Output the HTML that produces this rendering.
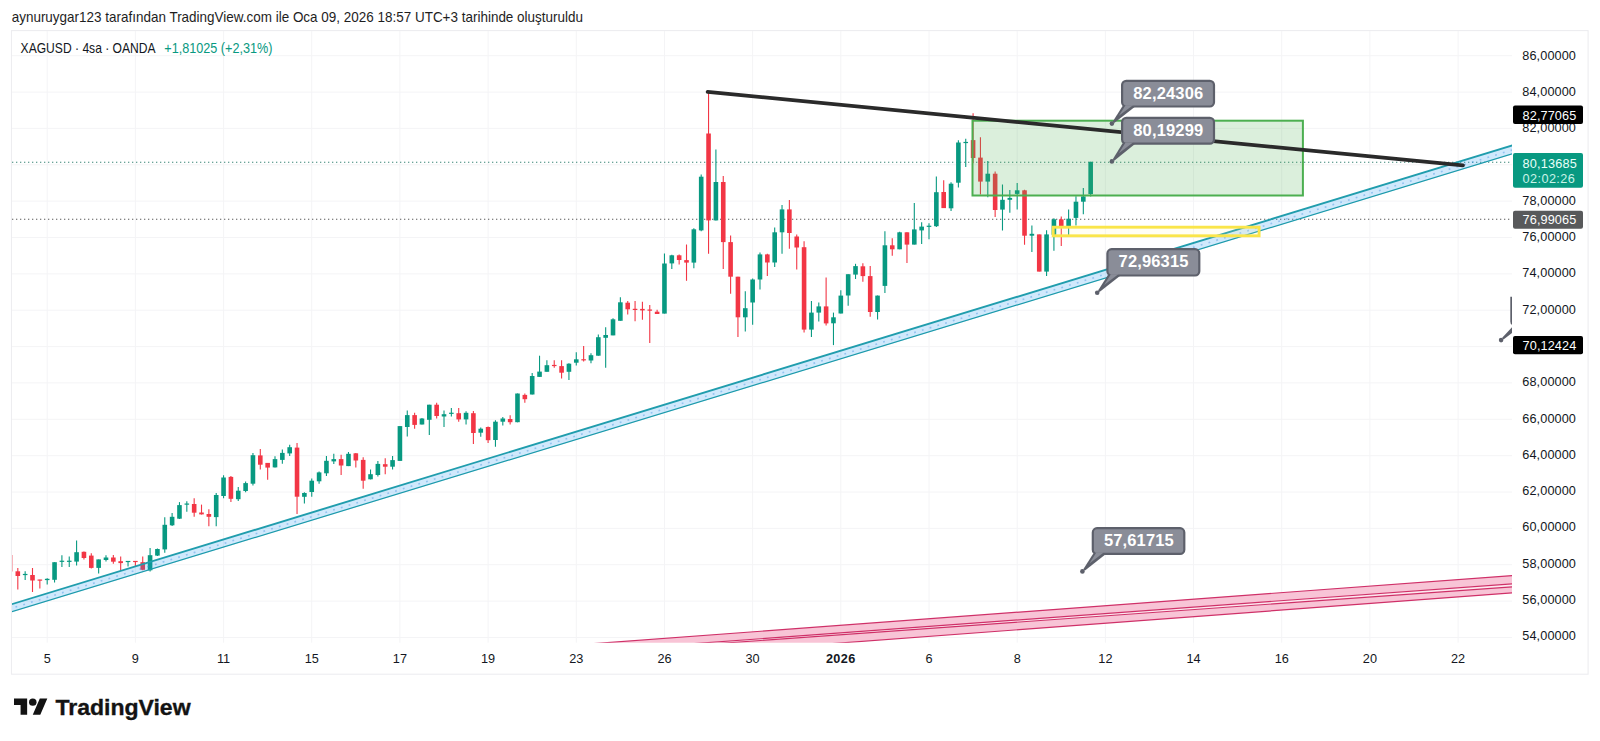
<!DOCTYPE html>
<html lang="tr"><head><meta charset="utf-8"><title>XAGUSD</title>
<style>
html,body{margin:0;padding:0;background:#fff;}
body{width:1600px;height:741px;position:relative;overflow:hidden;font-family:"Liberation Sans",sans-serif;}
#chart{position:absolute;left:0;top:0;}
#logo{position:absolute;left:13.9px;top:694.9px;}
svg text{font-family:"Liberation Sans",sans-serif;}
</style></head><body>
<svg id="chart" width="1600" height="741" viewBox="0 0 1600 741">
<defs><clipPath id="plot"><rect x="12" y="31" width="1500" height="611.7"/></clipPath></defs>
<rect x="11.5" y="30.6" width="1576.6" height="643.6" fill="#fff" stroke="#ededf0" stroke-width="1.1"/>

<g stroke="#f4f4f6" stroke-width="1">
<line x1="47.2" y1="31" x2="47.2" y2="642.7"/>
<line x1="135.4" y1="31" x2="135.4" y2="642.7"/>
<line x1="223.6" y1="31" x2="223.6" y2="642.7"/>
<line x1="311.7" y1="31" x2="311.7" y2="642.7"/>
<line x1="399.9" y1="31" x2="399.9" y2="642.7"/>
<line x1="488.1" y1="31" x2="488.1" y2="642.7"/>
<line x1="576.3" y1="31" x2="576.3" y2="642.7"/>
<line x1="664.5" y1="31" x2="664.5" y2="642.7"/>
<line x1="752.6" y1="31" x2="752.6" y2="642.7"/>
<line x1="840.8" y1="31" x2="840.8" y2="642.7"/>
<line x1="929.0" y1="31" x2="929.0" y2="642.7"/>
<line x1="1017.2" y1="31" x2="1017.2" y2="642.7"/>
<line x1="1105.4" y1="31" x2="1105.4" y2="642.7"/>
<line x1="1193.5" y1="31" x2="1193.5" y2="642.7"/>
<line x1="1281.7" y1="31" x2="1281.7" y2="642.7"/>
<line x1="1369.9" y1="31" x2="1369.9" y2="642.7"/>
<line x1="1458.1" y1="31" x2="1458.1" y2="642.7"/>
<line x1="12" y1="637.5" x2="1512" y2="637.5"/>
<line x1="12" y1="601.1" x2="1512" y2="601.1"/>
<line x1="12" y1="564.7" x2="1512" y2="564.7"/>
<line x1="12" y1="528.4" x2="1512" y2="528.4"/>
<line x1="12" y1="492.0" x2="1512" y2="492.0"/>
<line x1="12" y1="455.7" x2="1512" y2="455.7"/>
<line x1="12" y1="419.3" x2="1512" y2="419.3"/>
<line x1="12" y1="382.9" x2="1512" y2="382.9"/>
<line x1="12" y1="346.6" x2="1512" y2="346.6"/>
<line x1="12" y1="310.2" x2="1512" y2="310.2"/>
<line x1="12" y1="273.9" x2="1512" y2="273.9"/>
<line x1="12" y1="237.5" x2="1512" y2="237.5"/>
<line x1="12" y1="201.1" x2="1512" y2="201.1"/>
<line x1="12" y1="164.8" x2="1512" y2="164.8"/>
<line x1="12" y1="128.4" x2="1512" y2="128.4"/>
<line x1="12" y1="92.1" x2="1512" y2="92.1"/>
<line x1="12" y1="55.7" x2="1512" y2="55.7"/>
</g>
<g clip-path="url(#plot)">
<polygon points="560,646.1 1520,575.0 1520,583.2 560,653.4" fill="#f8c4d6"/>
<polygon points="560,654.8 1520,586.3 1520,592.3 560,663.9" fill="#f8c4d6"/>
<polygon points="560,653.4 1520,583.2 1520,586.3 560,654.8" fill="#fde9f0"/>
<line x1="560" y1="646.1" x2="1520" y2="575.0" stroke="#cf3068" stroke-width="1.2"/>
<line x1="560" y1="653.4" x2="1520" y2="583.2" stroke="#cf3068" stroke-width="1.2"/>
<line x1="560" y1="654.8" x2="1520" y2="586.3" stroke="#cf3068" stroke-width="1.2"/>
<line x1="560" y1="663.9" x2="1520" y2="592.3" stroke="#cf3068" stroke-width="1.2"/>
<line x1="12" y1="162.3" x2="1512" y2="162.3" stroke="#3a8577" stroke-width="1.1" stroke-dasharray="1.3 2.7"/>
<line x1="12" y1="219.3" x2="1512" y2="219.3" stroke="#5a5a5a" stroke-width="1.1" stroke-dasharray="1.3 2.7"/>
<line x1="12.3" y1="555" x2="12.3" y2="571.5" stroke="#f7a3ab" stroke-width="1"/>
<line x1="17.81" y1="567.9" x2="17.81" y2="589.6" stroke="#f23645" stroke-width="1.1"/>
<rect x="15.51" y="571.3" width="4.6" height="4.7" fill="#f23645"/>
<line x1="25.16" y1="571.3" x2="25.16" y2="580.1" stroke="#089981" stroke-width="1.1"/>
<rect x="22.86" y="573.9" width="4.6" height="1.2" fill="#089981"/>
<line x1="32.50" y1="567.9" x2="32.50" y2="592.0" stroke="#f23645" stroke-width="1.1"/>
<rect x="30.20" y="575.0" width="4.6" height="5.5" fill="#f23645"/>
<line x1="39.85" y1="579.8" x2="39.85" y2="588.6" stroke="#f23645" stroke-width="1.1"/>
<rect x="37.55" y="579.5" width="4.6" height="1.2" fill="#f23645"/>
<line x1="47.20" y1="578.2" x2="47.20" y2="584.5" stroke="#089981" stroke-width="1.1"/>
<rect x="44.90" y="578.8" width="4.6" height="1.3" fill="#089981"/>
<line x1="54.55" y1="562.2" x2="54.55" y2="582.4" stroke="#089981" stroke-width="1.1"/>
<rect x="52.25" y="562.2" width="4.6" height="17.6" fill="#089981"/>
<line x1="61.90" y1="555.2" x2="61.90" y2="566.9" stroke="#089981" stroke-width="1.1"/>
<rect x="59.60" y="560.7" width="4.6" height="1.2" fill="#089981"/>
<line x1="69.25" y1="556.5" x2="69.25" y2="566.9" stroke="#089981" stroke-width="1.1"/>
<rect x="66.95" y="560.7" width="4.6" height="1.2" fill="#089981"/>
<line x1="76.59" y1="540.5" x2="76.59" y2="565.4" stroke="#089981" stroke-width="1.1"/>
<rect x="74.29" y="552.2" width="4.6" height="9.4" fill="#089981"/>
<line x1="83.94" y1="551.4" x2="83.94" y2="559.4" stroke="#f23645" stroke-width="1.1"/>
<rect x="81.64" y="551.8" width="4.6" height="6.2" fill="#f23645"/>
<line x1="91.29" y1="553.3" x2="91.29" y2="568.4" stroke="#f23645" stroke-width="1.1"/>
<rect x="88.99" y="555.6" width="4.6" height="12.3" fill="#f23645"/>
<line x1="98.64" y1="559.4" x2="98.64" y2="573.5" stroke="#089981" stroke-width="1.1"/>
<rect x="96.34" y="559.4" width="4.6" height="8.5" fill="#089981"/>
<line x1="105.99" y1="555.2" x2="105.99" y2="561.6" stroke="#089981" stroke-width="1.1"/>
<rect x="103.69" y="557.5" width="4.6" height="2.5" fill="#089981"/>
<line x1="113.34" y1="555.0" x2="113.34" y2="563.7" stroke="#f23645" stroke-width="1.1"/>
<rect x="111.04" y="557.5" width="4.6" height="4.2" fill="#f23645"/>
<line x1="120.68" y1="556.5" x2="120.68" y2="570.7" stroke="#f23645" stroke-width="1.1"/>
<rect x="118.38" y="561.2" width="4.6" height="1.9" fill="#f23645"/>
<line x1="128.03" y1="561.2" x2="128.03" y2="566.5" stroke="#089981" stroke-width="1.1"/>
<rect x="125.73" y="560.9" width="4.6" height="1.2" fill="#089981"/>
<line x1="135.38" y1="561.2" x2="135.38" y2="566.0" stroke="#f23645" stroke-width="1.1"/>
<rect x="133.08" y="560.9" width="4.6" height="1.2" fill="#f23645"/>
<line x1="142.73" y1="556.5" x2="142.73" y2="570.3" stroke="#f23645" stroke-width="1.1"/>
<rect x="140.43" y="562.2" width="4.6" height="7.6" fill="#f23645"/>
<line x1="150.08" y1="548.0" x2="150.08" y2="571.6" stroke="#089981" stroke-width="1.1"/>
<rect x="147.78" y="555.2" width="4.6" height="15.1" fill="#089981"/>
<line x1="157.43" y1="548.4" x2="157.43" y2="556.1" stroke="#089981" stroke-width="1.1"/>
<rect x="155.12" y="549.0" width="4.6" height="6.6" fill="#089981"/>
<line x1="164.77" y1="517.2" x2="164.77" y2="552.7" stroke="#089981" stroke-width="1.1"/>
<rect x="162.47" y="524.8" width="4.6" height="24.6" fill="#089981"/>
<line x1="172.12" y1="513.1" x2="172.12" y2="525.9" stroke="#089981" stroke-width="1.1"/>
<rect x="169.82" y="516.8" width="4.6" height="8.5" fill="#089981"/>
<line x1="179.47" y1="502.1" x2="179.47" y2="519.1" stroke="#089981" stroke-width="1.1"/>
<rect x="177.17" y="505.1" width="4.6" height="13.6" fill="#089981"/>
<line x1="186.82" y1="501.2" x2="186.82" y2="511.7" stroke="#089981" stroke-width="1.1"/>
<rect x="184.52" y="503.5" width="4.6" height="1.2" fill="#089981"/>
<line x1="194.17" y1="498.3" x2="194.17" y2="516.8" stroke="#f23645" stroke-width="1.1"/>
<rect x="191.87" y="504.0" width="4.6" height="8.7" fill="#f23645"/>
<line x1="201.51" y1="504.6" x2="201.51" y2="514.6" stroke="#f23645" stroke-width="1.1"/>
<rect x="199.21" y="512.5" width="4.6" height="1.9" fill="#f23645"/>
<line x1="208.86" y1="509.3" x2="208.86" y2="526.3" stroke="#f23645" stroke-width="1.1"/>
<rect x="206.56" y="514.0" width="4.6" height="2.8" fill="#f23645"/>
<line x1="216.21" y1="493.0" x2="216.21" y2="526.2" stroke="#089981" stroke-width="1.1"/>
<rect x="213.91" y="495.0" width="4.6" height="22.1" fill="#089981"/>
<line x1="223.56" y1="475.2" x2="223.56" y2="498.2" stroke="#089981" stroke-width="1.1"/>
<rect x="221.26" y="477.5" width="4.6" height="18.5" fill="#089981"/>
<line x1="230.91" y1="476.1" x2="230.91" y2="502.0" stroke="#f23645" stroke-width="1.1"/>
<rect x="228.61" y="476.9" width="4.6" height="21.9" fill="#f23645"/>
<line x1="238.26" y1="486.9" x2="238.26" y2="501.1" stroke="#089981" stroke-width="1.1"/>
<rect x="235.96" y="490.7" width="4.6" height="8.5" fill="#089981"/>
<line x1="245.61" y1="481.6" x2="245.61" y2="492.2" stroke="#089981" stroke-width="1.1"/>
<rect x="243.31" y="483.1" width="4.6" height="7.9" fill="#089981"/>
<line x1="252.95" y1="452.9" x2="252.95" y2="485.6" stroke="#089981" stroke-width="1.1"/>
<rect x="250.65" y="455.2" width="4.6" height="28.5" fill="#089981"/>
<line x1="260.30" y1="449.1" x2="260.30" y2="469.5" stroke="#f23645" stroke-width="1.1"/>
<rect x="258.00" y="455.4" width="4.6" height="9.3" fill="#f23645"/>
<line x1="267.65" y1="462.9" x2="267.65" y2="479.7" stroke="#f23645" stroke-width="1.1"/>
<rect x="265.35" y="462.9" width="4.6" height="4.7" fill="#f23645"/>
<line x1="275.00" y1="456.3" x2="275.00" y2="467.4" stroke="#089981" stroke-width="1.1"/>
<rect x="272.70" y="459.1" width="4.6" height="8.3" fill="#089981"/>
<line x1="282.35" y1="449.5" x2="282.35" y2="463.7" stroke="#089981" stroke-width="1.1"/>
<rect x="280.05" y="452.9" width="4.6" height="7.0" fill="#089981"/>
<line x1="289.69" y1="444.8" x2="289.69" y2="456.1" stroke="#089981" stroke-width="1.1"/>
<rect x="287.39" y="447.2" width="4.6" height="6.2" fill="#089981"/>
<line x1="297.04" y1="443.1" x2="297.04" y2="513.9" stroke="#f23645" stroke-width="1.1"/>
<rect x="294.74" y="447.6" width="4.6" height="49.1" fill="#f23645"/>
<line x1="304.39" y1="492.2" x2="304.39" y2="503.5" stroke="#089981" stroke-width="1.1"/>
<rect x="302.09" y="493.0" width="4.6" height="3.8" fill="#089981"/>
<line x1="311.74" y1="478.4" x2="311.74" y2="496.7" stroke="#089981" stroke-width="1.1"/>
<rect x="309.44" y="480.7" width="4.6" height="11.3" fill="#089981"/>
<line x1="319.09" y1="471.4" x2="319.09" y2="483.7" stroke="#089981" stroke-width="1.1"/>
<rect x="316.79" y="472.4" width="4.6" height="8.9" fill="#089981"/>
<line x1="326.44" y1="456.1" x2="326.44" y2="475.9" stroke="#089981" stroke-width="1.1"/>
<rect x="324.14" y="460.8" width="4.6" height="12.5" fill="#089981"/>
<line x1="333.79" y1="453.8" x2="333.79" y2="463.9" stroke="#089981" stroke-width="1.1"/>
<rect x="331.49" y="459.1" width="4.6" height="2.3" fill="#089981"/>
<line x1="341.13" y1="454.8" x2="341.13" y2="475.0" stroke="#f23645" stroke-width="1.1"/>
<rect x="338.83" y="459.1" width="4.6" height="6.4" fill="#f23645"/>
<line x1="348.48" y1="452.0" x2="348.48" y2="466.1" stroke="#089981" stroke-width="1.1"/>
<rect x="346.18" y="453.8" width="4.6" height="12.3" fill="#089981"/>
<line x1="355.83" y1="452.9" x2="355.83" y2="467.4" stroke="#f23645" stroke-width="1.1"/>
<rect x="353.53" y="453.3" width="4.6" height="7.2" fill="#f23645"/>
<line x1="363.18" y1="457.2" x2="363.18" y2="488.8" stroke="#f23645" stroke-width="1.1"/>
<rect x="360.88" y="459.9" width="4.6" height="20.8" fill="#f23645"/>
<line x1="370.53" y1="469.5" x2="370.53" y2="479.4" stroke="#089981" stroke-width="1.1"/>
<rect x="368.23" y="474.2" width="4.6" height="5.1" fill="#089981"/>
<line x1="377.88" y1="461.0" x2="377.88" y2="476.5" stroke="#089981" stroke-width="1.1"/>
<rect x="375.57" y="463.9" width="4.6" height="11.1" fill="#089981"/>
<line x1="385.22" y1="458.2" x2="385.22" y2="474.2" stroke="#f23645" stroke-width="1.1"/>
<rect x="382.92" y="464.2" width="4.6" height="2.5" fill="#f23645"/>
<line x1="392.57" y1="456.1" x2="392.57" y2="469.5" stroke="#089981" stroke-width="1.1"/>
<rect x="390.27" y="460.1" width="4.6" height="6.6" fill="#089981"/>
<line x1="399.92" y1="426.1" x2="399.92" y2="460.8" stroke="#089981" stroke-width="1.1"/>
<rect x="397.62" y="426.1" width="4.6" height="34.8" fill="#089981"/>
<line x1="407.27" y1="410.4" x2="407.27" y2="436.5" stroke="#089981" stroke-width="1.1"/>
<rect x="404.97" y="415.1" width="4.6" height="11.9" fill="#089981"/>
<line x1="414.62" y1="412.7" x2="414.62" y2="428.7" stroke="#f23645" stroke-width="1.1"/>
<rect x="412.32" y="415.1" width="4.6" height="9.8" fill="#f23645"/>
<line x1="421.96" y1="417.9" x2="421.96" y2="424.6" stroke="#089981" stroke-width="1.1"/>
<rect x="419.66" y="418.5" width="4.6" height="6.0" fill="#089981"/>
<line x1="429.31" y1="404.7" x2="429.31" y2="435.0" stroke="#089981" stroke-width="1.1"/>
<rect x="427.01" y="404.7" width="4.6" height="15.1" fill="#089981"/>
<line x1="436.66" y1="402.8" x2="436.66" y2="418.5" stroke="#f23645" stroke-width="1.1"/>
<rect x="434.36" y="404.7" width="4.6" height="11.3" fill="#f23645"/>
<line x1="444.01" y1="410.4" x2="444.01" y2="427.0" stroke="#089981" stroke-width="1.1"/>
<rect x="441.71" y="414.2" width="4.6" height="2.3" fill="#089981"/>
<line x1="451.36" y1="408.1" x2="451.36" y2="416.6" stroke="#089981" stroke-width="1.1"/>
<rect x="449.06" y="412.7" width="4.6" height="1.2" fill="#089981"/>
<line x1="458.71" y1="408.1" x2="458.71" y2="421.7" stroke="#f23645" stroke-width="1.1"/>
<rect x="456.41" y="413.2" width="4.6" height="6.2" fill="#f23645"/>
<line x1="466.06" y1="411.3" x2="466.06" y2="424.6" stroke="#089981" stroke-width="1.1"/>
<rect x="463.75" y="412.8" width="4.6" height="6.6" fill="#089981"/>
<line x1="473.40" y1="411.0" x2="473.40" y2="444.0" stroke="#f23645" stroke-width="1.1"/>
<rect x="471.10" y="413.2" width="4.6" height="19.8" fill="#f23645"/>
<line x1="480.75" y1="427.4" x2="480.75" y2="436.8" stroke="#089981" stroke-width="1.1"/>
<rect x="478.45" y="428.7" width="4.6" height="4.0" fill="#089981"/>
<line x1="488.10" y1="426.5" x2="488.10" y2="443.1" stroke="#f23645" stroke-width="1.1"/>
<rect x="485.80" y="427.0" width="4.6" height="13.2" fill="#f23645"/>
<line x1="495.45" y1="420.2" x2="495.45" y2="446.7" stroke="#089981" stroke-width="1.1"/>
<rect x="493.15" y="421.7" width="4.6" height="18.3" fill="#089981"/>
<line x1="502.80" y1="417.0" x2="502.80" y2="425.5" stroke="#089981" stroke-width="1.1"/>
<rect x="500.50" y="418.5" width="4.6" height="3.2" fill="#089981"/>
<line x1="510.14" y1="415.3" x2="510.14" y2="424.5" stroke="#f23645" stroke-width="1.1"/>
<rect x="507.84" y="419.0" width="4.6" height="3.2" fill="#f23645"/>
<line x1="517.49" y1="393.5" x2="517.49" y2="422.3" stroke="#089981" stroke-width="1.1"/>
<rect x="515.19" y="393.5" width="4.6" height="28.7" fill="#089981"/>
<line x1="524.84" y1="393.5" x2="524.84" y2="402.8" stroke="#f23645" stroke-width="1.1"/>
<rect x="522.54" y="394.9" width="4.6" height="4.3" fill="#f23645"/>
<line x1="532.19" y1="373.1" x2="532.19" y2="394.5" stroke="#089981" stroke-width="1.1"/>
<rect x="529.89" y="376.0" width="4.6" height="18.5" fill="#089981"/>
<line x1="539.54" y1="355.7" x2="539.54" y2="376.9" stroke="#089981" stroke-width="1.1"/>
<rect x="537.24" y="371.6" width="4.6" height="5.3" fill="#089981"/>
<line x1="546.89" y1="360.3" x2="546.89" y2="371.8" stroke="#089981" stroke-width="1.1"/>
<rect x="544.59" y="365.2" width="4.6" height="6.6" fill="#089981"/>
<line x1="554.24" y1="360.3" x2="554.24" y2="367.8" stroke="#f23645" stroke-width="1.1"/>
<rect x="551.94" y="364.9" width="4.6" height="1.2" fill="#f23645"/>
<line x1="561.58" y1="360.3" x2="561.58" y2="378.4" stroke="#f23645" stroke-width="1.1"/>
<rect x="559.28" y="366.1" width="4.6" height="6.6" fill="#f23645"/>
<line x1="568.93" y1="363.3" x2="568.93" y2="380.1" stroke="#089981" stroke-width="1.1"/>
<rect x="566.63" y="363.7" width="4.6" height="8.1" fill="#089981"/>
<line x1="576.28" y1="352.3" x2="576.28" y2="365.6" stroke="#089981" stroke-width="1.1"/>
<rect x="573.98" y="359.3" width="4.6" height="3.4" fill="#089981"/>
<line x1="583.63" y1="346.1" x2="583.63" y2="361.4" stroke="#f23645" stroke-width="1.1"/>
<rect x="581.33" y="359.2" width="4.6" height="1.2" fill="#f23645"/>
<line x1="590.98" y1="353.3" x2="590.98" y2="363.3" stroke="#089981" stroke-width="1.1"/>
<rect x="588.68" y="355.2" width="4.6" height="5.3" fill="#089981"/>
<line x1="598.33" y1="334.4" x2="598.33" y2="355.7" stroke="#089981" stroke-width="1.1"/>
<rect x="596.03" y="337.2" width="4.6" height="18.5" fill="#089981"/>
<line x1="605.67" y1="327.2" x2="605.67" y2="367.8" stroke="#089981" stroke-width="1.1"/>
<rect x="603.37" y="335.0" width="4.6" height="2.8" fill="#089981"/>
<line x1="613.02" y1="318.3" x2="613.02" y2="335.3" stroke="#089981" stroke-width="1.1"/>
<rect x="610.72" y="319.3" width="4.6" height="16.1" fill="#089981"/>
<line x1="620.37" y1="297.2" x2="620.37" y2="320.8" stroke="#089981" stroke-width="1.1"/>
<rect x="618.07" y="302.3" width="4.6" height="18.5" fill="#089981"/>
<line x1="627.72" y1="301.0" x2="627.72" y2="314.6" stroke="#f23645" stroke-width="1.1"/>
<rect x="625.42" y="302.7" width="4.6" height="6.6" fill="#f23645"/>
<line x1="635.07" y1="301.0" x2="635.07" y2="321.2" stroke="#f23645" stroke-width="1.1"/>
<rect x="632.77" y="308.8" width="4.6" height="1.2" fill="#f23645"/>
<line x1="642.42" y1="301.7" x2="642.42" y2="319.7" stroke="#f23645" stroke-width="1.1"/>
<rect x="640.12" y="308.9" width="4.6" height="1.5" fill="#f23645"/>
<line x1="649.76" y1="305.1" x2="649.76" y2="342.9" stroke="#f23645" stroke-width="1.1"/>
<rect x="647.46" y="309.5" width="4.6" height="1.2" fill="#f23645"/>
<line x1="657.11" y1="309.8" x2="657.11" y2="314.0" stroke="#f23645" stroke-width="1.1"/>
<rect x="654.81" y="311.7" width="4.6" height="2.3" fill="#f23645"/>
<line x1="664.46" y1="253.5" x2="664.46" y2="313.5" stroke="#089981" stroke-width="1.1"/>
<rect x="662.16" y="263.5" width="4.6" height="50.1" fill="#089981"/>
<line x1="671.81" y1="254.8" x2="671.81" y2="268.9" stroke="#089981" stroke-width="1.1"/>
<rect x="669.51" y="255.3" width="4.6" height="8.1" fill="#089981"/>
<line x1="679.16" y1="254.4" x2="679.16" y2="264.4" stroke="#f23645" stroke-width="1.1"/>
<rect x="676.86" y="255.3" width="4.6" height="4.7" fill="#f23645"/>
<line x1="686.51" y1="244.4" x2="686.51" y2="280.8" stroke="#f23645" stroke-width="1.1"/>
<rect x="684.21" y="260.1" width="4.6" height="2.5" fill="#f23645"/>
<line x1="693.85" y1="228.3" x2="693.85" y2="268.2" stroke="#089981" stroke-width="1.1"/>
<rect x="691.55" y="229.3" width="4.6" height="33.3" fill="#089981"/>
<line x1="701.20" y1="174.5" x2="701.20" y2="231.2" stroke="#089981" stroke-width="1.1"/>
<rect x="698.90" y="176.7" width="4.6" height="53.7" fill="#089981"/>
<line x1="708.55" y1="91.7" x2="708.55" y2="253.8" stroke="#f23645" stroke-width="1.1"/>
<rect x="706.25" y="133.5" width="4.6" height="86.9" fill="#f23645"/>
<line x1="715.90" y1="149.5" x2="715.90" y2="220.4" stroke="#089981" stroke-width="1.1"/>
<rect x="713.60" y="182.0" width="4.6" height="38.4" fill="#089981"/>
<line x1="723.25" y1="176.0" x2="723.25" y2="269.1" stroke="#f23645" stroke-width="1.1"/>
<rect x="720.95" y="182.0" width="4.6" height="60.1" fill="#f23645"/>
<line x1="730.60" y1="235.5" x2="730.60" y2="293.7" stroke="#f23645" stroke-width="1.1"/>
<rect x="728.30" y="242.1" width="4.6" height="34.6" fill="#f23645"/>
<line x1="737.94" y1="276.7" x2="737.94" y2="337.0" stroke="#f23645" stroke-width="1.1"/>
<rect x="735.64" y="276.7" width="4.6" height="40.6" fill="#f23645"/>
<line x1="745.29" y1="291.2" x2="745.29" y2="331.5" stroke="#089981" stroke-width="1.1"/>
<rect x="742.99" y="308.2" width="4.6" height="9.1" fill="#089981"/>
<line x1="752.64" y1="278.4" x2="752.64" y2="324.7" stroke="#089981" stroke-width="1.1"/>
<rect x="750.34" y="279.5" width="4.6" height="23.0" fill="#089981"/>
<line x1="759.99" y1="252.5" x2="759.99" y2="289.4" stroke="#089981" stroke-width="1.1"/>
<rect x="757.69" y="254.4" width="4.6" height="25.1" fill="#089981"/>
<line x1="767.34" y1="253.8" x2="767.34" y2="276.1" stroke="#f23645" stroke-width="1.1"/>
<rect x="765.04" y="254.4" width="4.6" height="8.1" fill="#f23645"/>
<line x1="774.69" y1="227.4" x2="774.69" y2="267.1" stroke="#089981" stroke-width="1.1"/>
<rect x="772.39" y="232.3" width="4.6" height="30.2" fill="#089981"/>
<line x1="782.03" y1="205.1" x2="782.03" y2="253.8" stroke="#089981" stroke-width="1.1"/>
<rect x="779.73" y="209.4" width="4.6" height="22.9" fill="#089981"/>
<line x1="789.38" y1="200.0" x2="789.38" y2="248.7" stroke="#f23645" stroke-width="1.1"/>
<rect x="787.08" y="209.4" width="4.6" height="23.6" fill="#f23645"/>
<line x1="796.73" y1="234.6" x2="796.73" y2="269.5" stroke="#f23645" stroke-width="1.1"/>
<rect x="794.43" y="236.5" width="4.6" height="11.0" fill="#f23645"/>
<line x1="804.08" y1="241.2" x2="804.08" y2="332.4" stroke="#f23645" stroke-width="1.1"/>
<rect x="801.78" y="247.2" width="4.6" height="82.4" fill="#f23645"/>
<line x1="811.43" y1="301.1" x2="811.43" y2="337.0" stroke="#089981" stroke-width="1.1"/>
<rect x="809.13" y="312.6" width="4.6" height="17.0" fill="#089981"/>
<line x1="818.78" y1="302.6" x2="818.78" y2="321.5" stroke="#089981" stroke-width="1.1"/>
<rect x="816.48" y="306.4" width="4.6" height="6.2" fill="#089981"/>
<line x1="826.12" y1="277.4" x2="826.12" y2="325.6" stroke="#f23645" stroke-width="1.1"/>
<rect x="823.82" y="306.4" width="4.6" height="17.0" fill="#f23645"/>
<line x1="833.47" y1="312.6" x2="833.47" y2="345.1" stroke="#089981" stroke-width="1.1"/>
<rect x="831.17" y="317.3" width="4.6" height="6.0" fill="#089981"/>
<line x1="840.82" y1="290.3" x2="840.82" y2="313.5" stroke="#089981" stroke-width="1.1"/>
<rect x="838.52" y="295.6" width="4.6" height="17.9" fill="#089981"/>
<line x1="848.17" y1="274.2" x2="848.17" y2="305.8" stroke="#089981" stroke-width="1.1"/>
<rect x="845.87" y="274.2" width="4.6" height="21.3" fill="#089981"/>
<line x1="855.52" y1="263.8" x2="855.52" y2="279.0" stroke="#089981" stroke-width="1.1"/>
<rect x="853.22" y="266.1" width="4.6" height="8.5" fill="#089981"/>
<line x1="862.87" y1="263.3" x2="862.87" y2="281.8" stroke="#f23645" stroke-width="1.1"/>
<rect x="860.57" y="266.3" width="4.6" height="9.8" fill="#f23645"/>
<line x1="870.21" y1="266.1" x2="870.21" y2="316.7" stroke="#f23645" stroke-width="1.1"/>
<rect x="867.91" y="276.1" width="4.6" height="35.9" fill="#f23645"/>
<line x1="877.56" y1="295.4" x2="877.56" y2="319.6" stroke="#089981" stroke-width="1.1"/>
<rect x="875.26" y="295.6" width="4.6" height="16.4" fill="#089981"/>
<line x1="884.91" y1="231.2" x2="884.91" y2="293.1" stroke="#089981" stroke-width="1.1"/>
<rect x="882.61" y="245.3" width="4.6" height="40.6" fill="#089981"/>
<line x1="892.26" y1="238.3" x2="892.26" y2="255.7" stroke="#f23645" stroke-width="1.1"/>
<rect x="889.96" y="245.3" width="4.6" height="4.0" fill="#f23645"/>
<line x1="899.61" y1="231.7" x2="899.61" y2="249.3" stroke="#089981" stroke-width="1.1"/>
<rect x="897.31" y="232.3" width="4.6" height="17.0" fill="#089981"/>
<line x1="906.96" y1="232.3" x2="906.96" y2="262.9" stroke="#f23645" stroke-width="1.1"/>
<rect x="904.66" y="232.3" width="4.6" height="12.3" fill="#f23645"/>
<line x1="914.30" y1="203.0" x2="914.30" y2="244.6" stroke="#089981" stroke-width="1.1"/>
<rect x="912.00" y="229.4" width="4.6" height="15.2" fill="#089981"/>
<line x1="921.65" y1="222.3" x2="921.65" y2="244.0" stroke="#089981" stroke-width="1.1"/>
<rect x="919.35" y="226.6" width="4.6" height="3.8" fill="#089981"/>
<line x1="929.00" y1="223.2" x2="929.00" y2="239.3" stroke="#089981" stroke-width="1.1"/>
<rect x="926.70" y="225.7" width="4.6" height="1.2" fill="#089981"/>
<line x1="936.35" y1="176.5" x2="936.35" y2="227.0" stroke="#089981" stroke-width="1.1"/>
<rect x="934.05" y="192.2" width="4.6" height="34.0" fill="#089981"/>
<line x1="943.70" y1="180.3" x2="943.70" y2="208.1" stroke="#f23645" stroke-width="1.1"/>
<rect x="941.40" y="192.0" width="4.6" height="16.1" fill="#f23645"/>
<line x1="951.05" y1="182.2" x2="951.05" y2="211.1" stroke="#089981" stroke-width="1.1"/>
<rect x="948.75" y="183.7" width="4.6" height="24.6" fill="#089981"/>
<line x1="958.39" y1="140.2" x2="958.39" y2="187.5" stroke="#089981" stroke-width="1.1"/>
<rect x="956.09" y="142.5" width="4.6" height="40.2" fill="#089981"/>
<line x1="965.74" y1="138.7" x2="965.74" y2="167.1" stroke="#089981" stroke-width="1.1"/>
<rect x="963.44" y="141.9" width="4.6" height="1.2" fill="#089981"/>
<line x1="973.09" y1="113.2" x2="973.09" y2="163.3" stroke="#f23645" stroke-width="1.1"/>
<rect x="970.79" y="140.1" width="4.6" height="17.9" fill="#f23645"/>
<line x1="980.44" y1="137.2" x2="980.44" y2="194.5" stroke="#f23645" stroke-width="1.1"/>
<rect x="978.14" y="157.6" width="4.6" height="24.0" fill="#f23645"/>
<line x1="987.79" y1="161.0" x2="987.79" y2="197.3" stroke="#089981" stroke-width="1.1"/>
<rect x="985.49" y="173.7" width="4.6" height="7.9" fill="#089981"/>
<line x1="995.14" y1="171.4" x2="995.14" y2="217.1" stroke="#f23645" stroke-width="1.1"/>
<rect x="992.84" y="173.7" width="4.6" height="36.3" fill="#f23645"/>
<line x1="1002.48" y1="184.5" x2="1002.48" y2="230.4" stroke="#089981" stroke-width="1.1"/>
<rect x="1000.18" y="199.8" width="4.6" height="9.8" fill="#089981"/>
<line x1="1009.83" y1="190.1" x2="1009.83" y2="212.8" stroke="#089981" stroke-width="1.1"/>
<rect x="1007.53" y="197.9" width="4.6" height="1.9" fill="#089981"/>
<line x1="1017.18" y1="183.1" x2="1017.18" y2="209.6" stroke="#089981" stroke-width="1.1"/>
<rect x="1014.88" y="190.3" width="4.6" height="3.6" fill="#089981"/>
<line x1="1024.53" y1="189.7" x2="1024.53" y2="244.8" stroke="#f23645" stroke-width="1.1"/>
<rect x="1022.23" y="190.3" width="4.6" height="45.4" fill="#f23645"/>
<line x1="1031.88" y1="225.5" x2="1031.88" y2="252.0" stroke="#089981" stroke-width="1.1"/>
<rect x="1029.58" y="233.8" width="4.6" height="1.9" fill="#089981"/>
<line x1="1039.23" y1="234.4" x2="1039.23" y2="271.6" stroke="#f23645" stroke-width="1.1"/>
<rect x="1036.93" y="234.4" width="4.6" height="37.2" fill="#f23645"/>
<line x1="1046.57" y1="230.2" x2="1046.57" y2="276.0" stroke="#089981" stroke-width="1.1"/>
<rect x="1044.27" y="234.4" width="4.6" height="37.2" fill="#089981"/>
<line x1="1053.92" y1="218.3" x2="1053.92" y2="250.8" stroke="#089981" stroke-width="1.1"/>
<rect x="1051.62" y="219.3" width="4.6" height="15.5" fill="#089981"/>
<line x1="1061.27" y1="216.5" x2="1061.27" y2="246.1" stroke="#f23645" stroke-width="1.1"/>
<rect x="1058.97" y="219.3" width="4.6" height="7.0" fill="#f23645"/>
<line x1="1068.62" y1="209.5" x2="1068.62" y2="235.3" stroke="#089981" stroke-width="1.1"/>
<rect x="1066.32" y="218.7" width="4.6" height="7.6" fill="#089981"/>
<line x1="1075.97" y1="196.2" x2="1075.97" y2="225.5" stroke="#089981" stroke-width="1.1"/>
<rect x="1073.67" y="201.7" width="4.6" height="16.2" fill="#089981"/>
<line x1="1083.32" y1="187.9" x2="1083.32" y2="214.3" stroke="#089981" stroke-width="1.1"/>
<rect x="1081.02" y="196.4" width="4.6" height="5.3" fill="#089981"/>
<line x1="1090.66" y1="161.8" x2="1090.66" y2="196.4" stroke="#089981" stroke-width="1.1"/>
<rect x="1088.36" y="161.8" width="4.6" height="32.3" fill="#089981"/>
<polygon points="0,607.6 1520,142.9 1520,152.0 0,615.8" fill="#2196f3" fill-opacity="0.21"/>
<line x1="0" y1="611.8" x2="1520" y2="147.6" stroke="#3f8fe0" stroke-opacity="0.42" stroke-width="1.6" stroke-dasharray="1.8 6.3"/>
<line x1="0" y1="607.8" x2="1520" y2="143.1" stroke="#209dad" stroke-width="1.9"/>
<line x1="0" y1="615.3" x2="1520" y2="151.5" stroke="#1b9aaa" stroke-width="1.2"/>
<rect x="972.5" y="120.7" width="330.4" height="74.8" fill="#4caf50" fill-opacity="0.2" stroke="#4caf50" stroke-width="2"/>
<rect x="1053.2" y="227.2" width="205.9" height="8.6" fill="#fff59d" fill-opacity="0.12" stroke="#fae54a" stroke-width="2.9"/>
<line x1="707.6" y1="91.9" x2="1463" y2="165.4" stroke="#2a2a2a" stroke-width="3.7" stroke-linecap="round"/>
<g>
<path d="M1122.6,106.1 L1112.8,121.5 L1114.2,122.9 L1135.9,106.1 Z" fill="#5d606b"/>
<rect x="1122.1" y="80.9" width="91.9" height="25.6" rx="4.2" fill="#8a8d98" stroke="#5d606b" stroke-width="2.2"/>
<path d="M1125.6,105.2 L1118.8,115.8 L1133.0,105.2 Z" fill="#8a8d98"/>
<circle cx="1111.9" cy="123.6" r="2.3" fill="#5d606b"/>
<text x="1168.3" y="98.5" text-anchor="middle" font-size="16.5" font-weight="bold" fill="#fff" letter-spacing="0.15">82,24306</text>
</g>
<g>
<path d="M1122.6,143.3 L1112.8,159.3 L1114.2,160.7 L1135.9,143.3 Z" fill="#5d606b"/>
<rect x="1122.1" y="117.9" width="91.9" height="25.8" rx="4.2" fill="#8a8d98" stroke="#5d606b" stroke-width="2.2"/>
<path d="M1125.6,142.4 L1118.8,153.3 L1133.0,142.4 Z" fill="#8a8d98"/>
<circle cx="1111.9" cy="161.4" r="2.3" fill="#5d606b"/>
<text x="1168.3" y="135.5" text-anchor="middle" font-size="16.5" font-weight="bold" fill="#fff" letter-spacing="0.15">80,19299</text>
</g>
<g>
<path d="M1107.9,275.1 L1098.1,290.6 L1099.5,292.0 L1121.2,275.1 Z" fill="#5d606b"/>
<rect x="1107.4" y="249.2" width="91.9" height="26.3" rx="4.2" fill="#8a8d98" stroke="#5d606b" stroke-width="2.2"/>
<path d="M1110.9,274.2 L1104.1,284.9 L1118.3,274.2 Z" fill="#8a8d98"/>
<circle cx="1097.2" cy="292.7" r="2.3" fill="#5d606b"/>
<text x="1153.6" y="266.8" text-anchor="middle" font-size="16.5" font-weight="bold" fill="#fff" letter-spacing="0.15">72,96315</text>
</g>
<g>
<path d="M1093.3,553.5 L1083.3,569.3 L1084.7,570.7 L1106.6,553.5 Z" fill="#5d606b"/>
<rect x="1092.8" y="528.2" width="91.5" height="25.7" rx="4.2" fill="#8a8d98" stroke="#5d606b" stroke-width="2.2"/>
<path d="M1096.3,552.6 L1089.4,563.4 L1103.7,552.6 Z" fill="#8a8d98"/>
<circle cx="1082.4" cy="571.4" r="2.3" fill="#5d606b"/>
<text x="1138.9" y="545.8" text-anchor="middle" font-size="16.5" font-weight="bold" fill="#fff" letter-spacing="0.15">57,61715</text>
</g>
<path d="M1511.3,296.8 L1511.3,321.5 Q1511.3,323.4 1512.6,324" fill="none" stroke="#5d606b" stroke-width="2"/>
<path d="M1502.2,337.8 L1512.2,327.1 L1512.2,332.9 L1503.5,339.5 Z" fill="#5d606b"/>
<circle cx="1501.1" cy="340.1" r="2.3" fill="#5d606b"/>
</g>
<g font-size="12.7" fill="#131722" letter-spacing="0.1">
<text x="1522.3" y="640.3">54,00000</text>
<text x="1522.3" y="604.0">56,00000</text>
<text x="1522.3" y="567.7">58,00000</text>
<text x="1522.3" y="531.4">60,00000</text>
<text x="1522.3" y="495.1">62,00000</text>
<text x="1522.3" y="458.8">64,00000</text>
<text x="1522.3" y="422.6">66,00000</text>
<text x="1522.3" y="386.2">68,00000</text>
<text x="1522.3" y="349.9">70,00000</text>
<text x="1522.3" y="313.6">72,00000</text>
<text x="1522.3" y="277.3">74,00000</text>
<text x="1522.3" y="241.1">76,00000</text>
<text x="1522.3" y="204.8">78,00000</text>
<text x="1522.3" y="168.4">80,00000</text>
<text x="1522.3" y="132.2">82,00000</text>
<text x="1522.3" y="95.8">84,00000</text>
<text x="1522.3" y="59.5">86,00000</text>
</g>
<rect x="1513" y="105.6" width="70" height="18.5" rx="2" fill="#000"/>
<text x="1522.6" y="119.6" font-size="12.7" fill="#fff" letter-spacing="0.1">82,77065</text>
<rect x="1513" y="153.1" width="70" height="34.7" rx="2" fill="#089981"/>
<text x="1522.6" y="167.6" font-size="12.7" fill="#eafff9" letter-spacing="0.2">80,13685</text>
<text x="1522.6" y="182.5" font-size="12.7" fill="#c9f3e8" letter-spacing="0.4">02:02:26</text>
<rect x="1513" y="210.8" width="70" height="17.9" rx="2" fill="#58595b"/>
<text x="1522.6" y="224.4" font-size="12.7" fill="#fff" letter-spacing="0.1">76,99065</text>
<rect x="1513" y="336.1" width="70" height="18.1" rx="2" fill="#000"/>
<text x="1522.6" y="349.8" font-size="12.7" fill="#fff" letter-spacing="0.1">70,12424</text>
<g font-size="12.7" fill="#131722" text-anchor="middle">
<text x="47.2" y="663.1">5</text>
<text x="135.4" y="663.1">9</text>
<text x="223.6" y="663.1">11</text>
<text x="311.7" y="663.1">15</text>
<text x="399.9" y="663.1">17</text>
<text x="488.1" y="663.1">19</text>
<text x="576.3" y="663.1">23</text>
<text x="664.5" y="663.1">26</text>
<text x="752.6" y="663.1">30</text>
<text x="840.8" y="663.1" font-weight="bold" letter-spacing="0.4">2026</text>
<text x="929.0" y="663.1">6</text>
<text x="1017.2" y="663.1">8</text>
<text x="1105.4" y="663.1">12</text>
<text x="1193.5" y="663.1">14</text>
<text x="1281.7" y="663.1">16</text>
<text x="1369.9" y="663.1">20</text>
<text x="1458.1" y="663.1">22</text>
</g>
<text x="11.7" y="22.3" font-size="14.4" fill="#1e1e1e" textLength="571.3" lengthAdjust="spacingAndGlyphs">aynuruygar123 tarafından TradingView.com ile Oca 09, 2026 18:57 UTC+3 tarihinde oluşturuldu</text>
<text x="20.6" y="53" font-size="14.2" fill="#131722" textLength="135" lengthAdjust="spacingAndGlyphs">XAGUSD · 4sa · OANDA</text>
<text x="164.3" y="53" font-size="14.2" fill="#089981" textLength="108.2" lengthAdjust="spacingAndGlyphs">+1,81025 (+2,31%)</text>
<text x="55.4" y="714.7" font-size="22" font-weight="bold" fill="#131313" stroke="#131313" stroke-width="0.35" textLength="135.2" lengthAdjust="spacingAndGlyphs">TradingView</text>
</svg>
<svg id="logo" width="33.8" height="25.2" viewBox="0 0 36 28" preserveAspectRatio="none"><path d="M14 22H7V11H0V4h14v18zM28 22h-8l7.5-18h8L28 22z" fill="#131313"/><circle cx="20" cy="8" r="4" fill="#131313"/></svg>
</body></html>
